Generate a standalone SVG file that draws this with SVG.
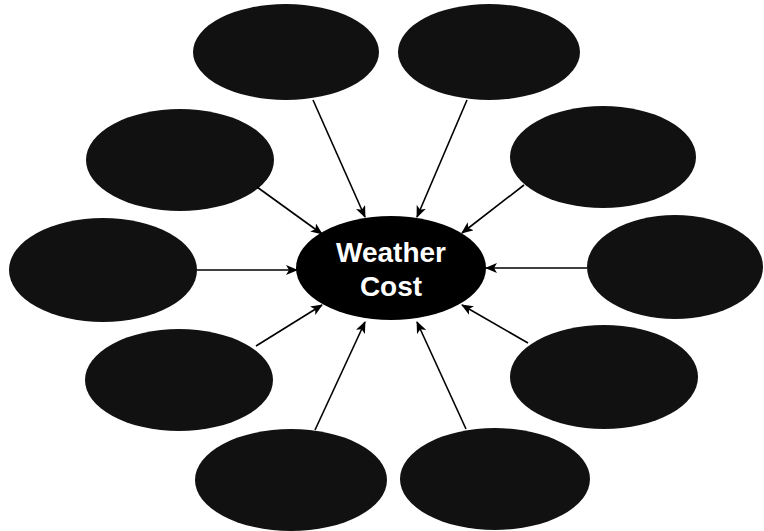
<svg xmlns="http://www.w3.org/2000/svg" width="764" height="531" viewBox="0 0 764 531">
  <defs>
    <marker id="arrow" viewBox="0 0 12 10" refX="11" refY="5" markerWidth="12" markerHeight="10" markerUnits="userSpaceOnUse" orient="auto">
      <path d="M0,0 L12,5 L0,10 L3,5 z" fill="#000"/>
    </marker>
  </defs>
  <style>
    .outer { fill: #111111; }
    .center { fill: #000000; }
    .edge { stroke: #000; stroke-width: 1.6; fill: none; marker-end: url(#arrow); }
    .label { font-family: "Liberation Sans", Arial, sans-serif; font-weight: bold; font-size: 28px; fill: #ffffff; text-anchor: middle; }
  </style>
  <rect width="764" height="531" fill="#ffffff"/>

  <g id="n-top-left"><ellipse class="outer" cx="286" cy="52" rx="93" ry="48"/></g>
  <g id="n-top-right"><ellipse class="outer" cx="489" cy="52" rx="91" ry="48"/></g>
  <g id="n-left-upper"><ellipse class="outer" cx="180" cy="160" rx="94" ry="51"/></g>
  <g id="n-right-upper"><ellipse class="outer" cx="603" cy="157" rx="93" ry="51"/></g>
  <g id="n-left-middle"><ellipse class="outer" cx="103" cy="270" rx="94" ry="52"/></g>
  <g id="n-right-middle"><ellipse class="outer" cx="675" cy="267" rx="88" ry="52"/></g>
  <g id="n-left-lower"><ellipse class="outer" cx="179" cy="380" rx="94" ry="51"/></g>
  <g id="n-right-lower"><ellipse class="outer" cx="604" cy="377" rx="94" ry="52"/></g>
  <g id="n-bottom-left"><ellipse class="outer" cx="291" cy="480" rx="96" ry="51"/></g>
  <g id="n-bottom-right"><ellipse class="outer" cx="495" cy="479" rx="95" ry="51"/></g>

  <g id="n-center">
    <ellipse class="center" cx="391" cy="268" rx="95" ry="52"/>
    <text class="label" x="391" y="262">Weather</text>
    <text class="label" x="391" y="296">Cost</text>
  </g>

  <g id="connectors">
    <line class="edge" x1="313" y1="100" x2="365" y2="217"/>
    <line class="edge" x1="467" y1="100" x2="417" y2="217"/>
    <line class="edge" x1="257" y1="187" x2="322" y2="234"/>
    <line class="edge" x1="524" y1="185" x2="462" y2="233"/>
    <line class="edge" x1="197" y1="270" x2="297" y2="270"/>
    <line class="edge" x1="587" y1="268" x2="486" y2="268"/>
    <line class="edge" x1="256" y1="346" x2="322" y2="305"/>
    <line class="edge" x1="528" y1="343" x2="462" y2="305"/>
    <line class="edge" x1="315" y1="430" x2="365" y2="322"/>
    <line class="edge" x1="466" y1="429" x2="417" y2="322"/>
  </g>
</svg>
